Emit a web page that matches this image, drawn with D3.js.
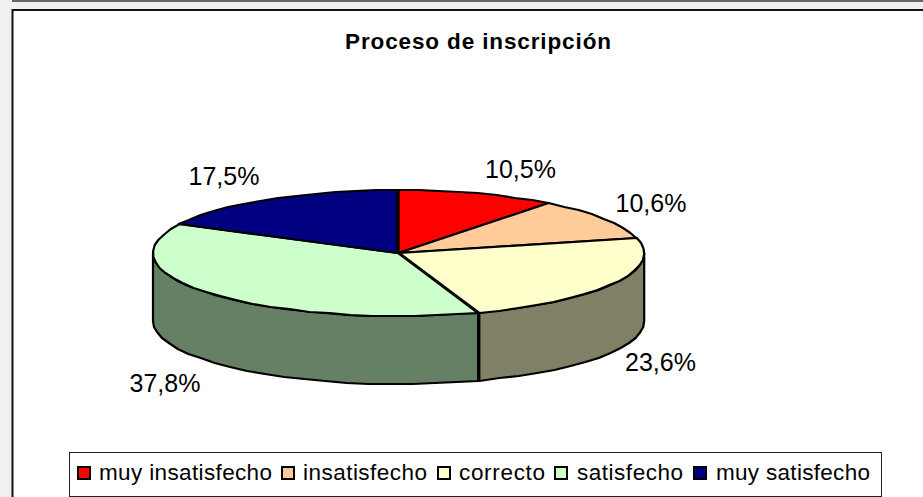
<!DOCTYPE html>
<html>
<head>
<meta charset="utf-8">
<script src="https://d3js.org/d3.v7.min.js"></script>
<style>
  html, body { margin: 0; padding: 0; background: #f0f0f0; overflow: hidden; }
  text { font-family: "Liberation Sans", Arial, sans-serif; fill: #000; }
</style>
</head>
<body>
<div id="chart"></div>
<script>
var categories = ["muy insatisfecho", "insatisfecho", "correcto", "satisfecho", "muy satisfecho"];
var values = [10.5, 10.6, 23.6, 37.8, 17.5];
var valueLabels = ["10,5%", "10,6%", "23,6%", "37,8%", "17,5%"];
var topColors = ["#ff0000", "#ffcc99", "#ffffcc", "#ccffcc", "#000080"];
var sideColors = ["#800000", "#80664d", "#808066", "#668066", "#000040"];
var titleText = "Proceso de inscripción";

var width = 923, height = 497;
var cx = 398, cy = 253, rx = 245, ry = 63, depth = 68;

var svg = d3.select("#chart").append("svg")
  .attr("width", width)
  .attr("height", height);

// frame of the chart, the page is grey around it
svg.append("rect").attr("x", 12).attr("y", -1).attr("width", 920).attr("height", 3).attr("fill", "#666");
svg.append("rect").attr("x", 12.5).attr("y", 10).attr("width", 920).attr("height", 500)
  .attr("fill", "#fff").attr("stroke", "#111").attr("stroke-width", 2);

svg.append("text")
  .attr("x", 345).attr("y", 48.5)
  .attr("textLength", 266)
  .style("font-size", "22.5px")
  .style("font-weight", "bold")
  .text(titleText);

// angles from d3.pie, clockwise from 12 o'clock
var pie = d3.pie().sort(null).value(function(d) { return d; });
var slices = pie(values);

// the slices sit a little apart, that gives the double lines between them
var sliceShift = [0.5, 0.5, 1.2, 0, -1];

function px(a) { return cx + rx * Math.sin(a); }
function py(a, drop) { return cy - ry * Math.cos(a) + (drop || 0); }

var line = d3.line();

// coarse on purpose, the original outline is a visible polygon
function arcPoints(a0, a1, drop) {
  var n = Math.max(2, Math.ceil((a1 - a0) * 11));
  return d3.range(n + 1).map(function(i) {
    var a = a0 + (a1 - a0) * i / n;
    return [px(a), Math.round(py(a, drop))];
  });
}

// side wall, only the front half of the ellipse shows
var sides = svg.append("g");
slices.forEach(function(s, i) {
  var a0 = Math.max(s.startAngle, Math.PI / 2);
  var a1 = Math.min(s.endAngle, Math.PI * 1.5);
  if (a1 <= a0) return;
  var pts = arcPoints(a0, a1, 0).concat(arcPoints(a0, a1, depth).reverse());
  sides.append("path")
    .attr("d", line(pts) + "Z")
    .attr("transform", "translate(" + sliceShift[i] + ",0)")
    .attr("fill", sideColors[i])
    .attr("stroke", "#000")
    .attr("stroke-width", 2.2)
    .attr("stroke-linejoin", "round");
});

// top face
var tops = svg.append("g");
slices.forEach(function(s, i) {
  var pts = [[cx, cy]].concat(arcPoints(s.startAngle, s.endAngle, 0));
  tops.append("path")
    .attr("d", line(pts) + "Z")
    .attr("transform", "translate(" + sliceShift[i] + ",0)")
    .attr("fill", topColors[i])
    .attr("stroke", "#000")
    .attr("stroke-width", 2.2)
    .attr("stroke-linejoin", "round");
});

// data labels, placed by hand around the pie
var labelX = [520.5, 651, 660.5, 165, 224];
var labelY = [178, 212, 371, 392, 185];
svg.append("g").selectAll("text")
  .data(valueLabels)
  .join("text")
  .attr("x", function(d, i) { return labelX[i]; })
  .attr("y", function(d, i) { return labelY[i]; })
  .attr("text-anchor", "middle")
  .style("font-size", "25px")
  .text(function(d) { return d; });

// legend
var legend = svg.append("g");
legend.append("rect")
  .attr("x", 69.5).attr("y", 452.5).attr("width", 812).attr("height", 44)
  .attr("fill", "#fff").attr("stroke", "#222").attr("stroke-width", 1);
var swatchX = [78, 282, 438, 555, 694];
var legendTextX = [99, 303, 459, 577, 716];
var legendTextW = [173, 124, 86, 106, 154];
categories.forEach(function(c, i) {
  legend.append("rect")
    .attr("x", swatchX[i]).attr("y", 467).attr("width", 12).attr("height", 12)
    .attr("fill", topColors[i]).attr("stroke", "#000").attr("stroke-width", 2);
  legend.append("text")
    .attr("x", legendTextX[i]).attr("y", 479.5)
    .attr("textLength", legendTextW[i])
    .style("font-size", "22.5px")
    .text(c);
});
</script>
</body>
</html>
